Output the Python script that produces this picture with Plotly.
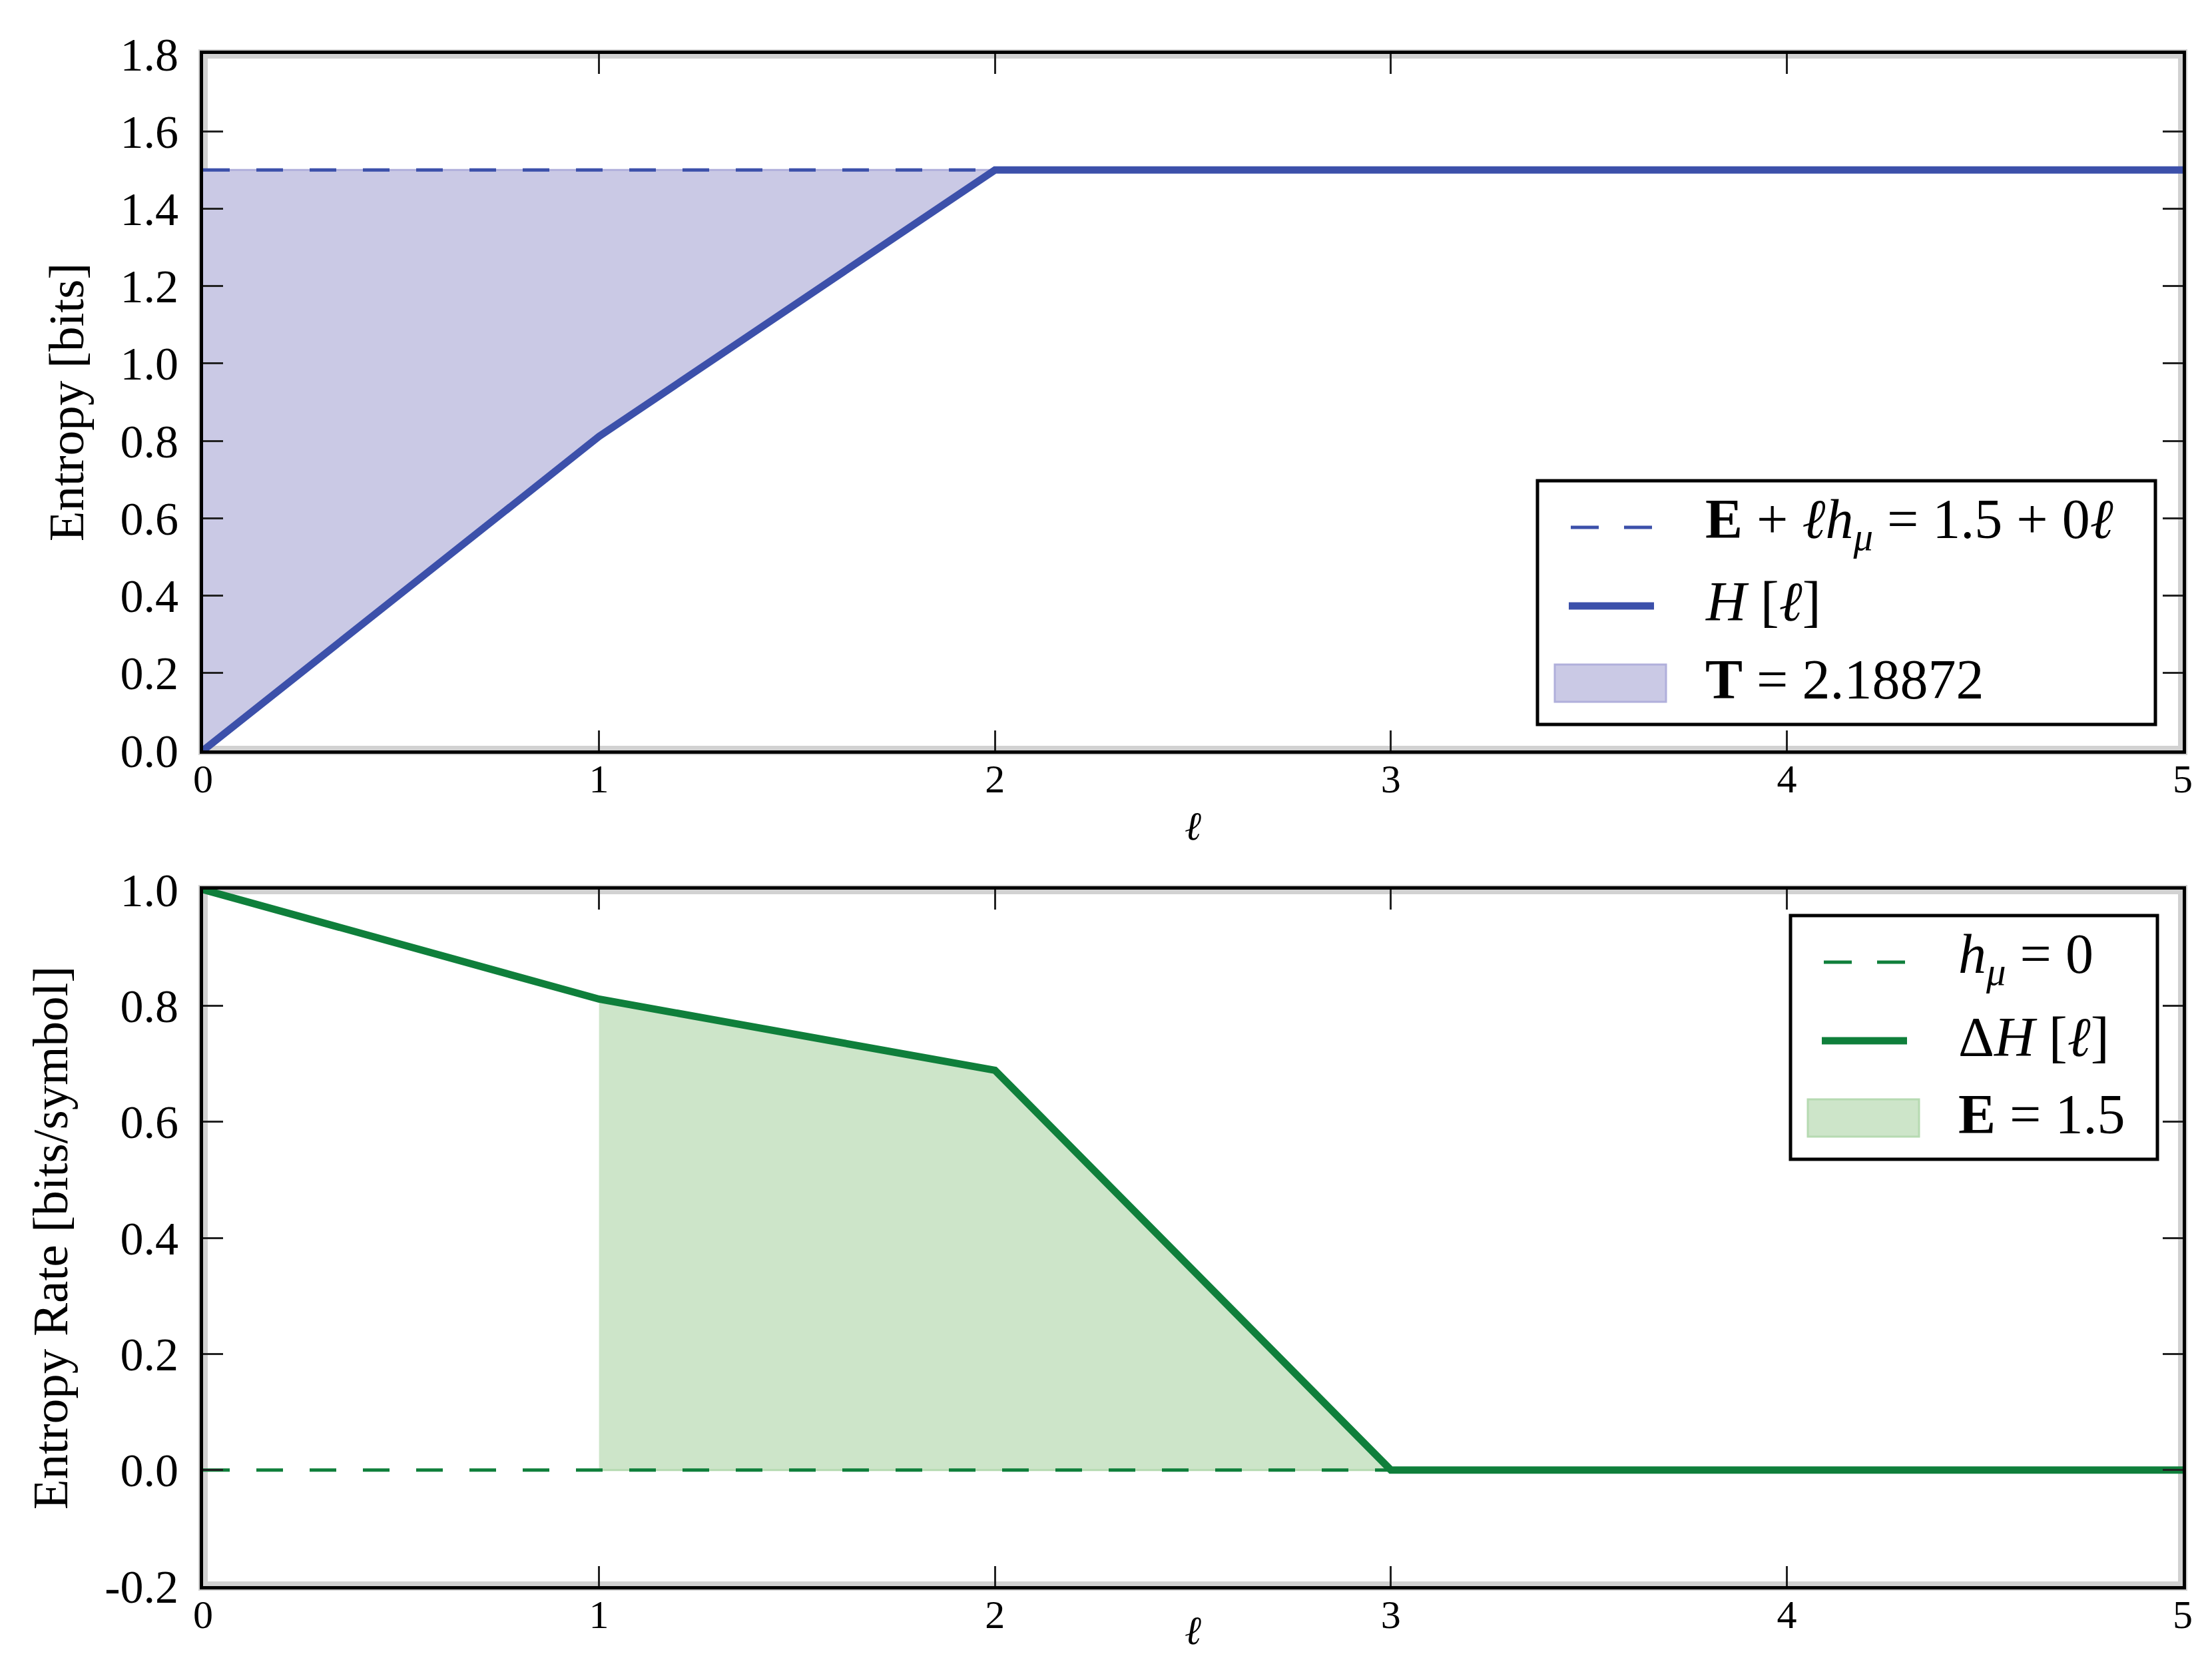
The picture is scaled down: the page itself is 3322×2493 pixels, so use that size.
import plotly.graph_objects as go
from plotly.subplots import make_subplots

# block length
ell = [0, 1, 2, 3, 4, 5]
# block entropy H[ell] (bits)
H = [0.0, 0.81128, 1.5, 1.5, 1.5, 1.5]
# excess entropy + ell * h_mu
E_line = [1.5, 1.5, 1.5, 1.5, 1.5, 1.5]
# entropy-rate estimates Delta H[ell] (bits/symbol)
dH = [1.0, 0.81128, 0.68872, 0.0, 0.0, 0.0]
hmu_line = [0.0, 0.0, 0.0, 0.0, 0.0, 0.0]

top_yticks = [0.0, 0.2, 0.4, 0.6, 0.8, 1.0, 1.2, 1.4, 1.6, 1.8]
bot_yticks = [-0.2, 0.0, 0.2, 0.4, 0.6, 0.8, 1.0]

top_labels = ["<b>E</b> + <i>ℓh</i><sub><i>μ</i></sub> = 1.5 + 0<i>ℓ</i>",
              "<i>H</i> [<i>ℓ</i>]", "<b>T</b> = 2.18872"]
bot_labels = ["<i>h</i><sub><i>μ</i></sub> = 0", "Δ<i>H</i> [<i>ℓ</i>]", "<b>E</b> = 1.5"]

BLUE = "#3c50aa"
BLUE_FILL = "#cac9e5"
BLUE_EDGE = "#b0afdb"
GREEN = "#0f7f3b"
GREEN_FILL = "#cde5c9"
GREEN_EDGE = "#b6dab1"
SERIF = "Liberation Serif, DejaVu Serif, serif"

# page is 3322x2493; the html body adds an 8px margin around the figure
PAGE_W, PAGE_H, OFF = 3322, 2493, 8
W, HGT = PAGE_W - 2 * OFF, PAGE_H - 2 * OFF
L, R, T, B = 305, 3278, 81, 2382   # plot area in page pixels
TOP_DOM = [(B - 1127) / (B - T), 1.0]
BOT_DOM = [0.0, (B - 1336) / (B - T)]


def px(x):
    return (x - L) / (R - L)


def py(y):
    return (B - y) / (B - T)


fig = make_subplots(rows=2, cols=1)

# --- top panel: block entropy ---
fill_x = ell[:3] + ell[:3][::-1]
fill_y = H[:3] + E_line[:3][::-1]
fig.add_trace(go.Scatter(x=fill_x, y=fill_y, fill="toself", fillcolor=BLUE_FILL, mode="lines",
                         line=dict(color=BLUE_EDGE, width=3), name=top_labels[2]), row=1, col=1)
fig.add_trace(go.Scatter(x=ell, y=E_line, mode="lines",
                         line=dict(color=BLUE, width=5, dash="40px,40px"), name=top_labels[0]), row=1, col=1)
fig.add_trace(go.Scatter(x=ell, y=H, mode="lines", line=dict(color=BLUE, width=11),
                         name=top_labels[1]), row=1, col=1)

# --- bottom panel: entropy rate estimates ---
gfill_x = ell[1:4] + ell[1:4][::-1]
gfill_y = dH[1:4] + hmu_line[1:4][::-1]
fig.add_trace(go.Scatter(x=gfill_x, y=gfill_y, fill="toself", fillcolor=GREEN_FILL, mode="lines",
                         line=dict(color=GREEN_EDGE, width=3), name=bot_labels[2]), row=2, col=1)
fig.add_trace(go.Scatter(x=ell, y=hmu_line, mode="lines",
                         line=dict(color=GREEN, width=5, dash="40px,40px"), name=bot_labels[0]), row=2, col=1)
fig.add_trace(go.Scatter(x=ell, y=dH, mode="lines", line=dict(color=GREEN, width=11),
                         name=bot_labels[1]), row=2, col=1)

fig.update_traces(showlegend=False, hoverinfo="skip")

shapes = []
annotations = []

# soft grey halo around the axes frames
for dom in (TOP_DOM, BOT_DOM):
    shapes.append(dict(type="rect", xref="paper", yref="paper", x0=0, x1=1, y0=dom[0], y1=dom[1],
                       line=dict(color="#d2d2d2", width=14), layer="below"))


def draw_legend(left, top, right, labels, color, fill, edge):
    # boxed legend drawn like matplotlib's: dashed, solid, filled patch
    bottom = top + 366
    shapes.append(dict(type="rect", xref="paper", yref="paper",
                       x0=px(left), x1=px(right), y0=py(bottom), y1=py(top),
                       fillcolor="white", line=dict(color="black", width=5), layer="above"))
    rows = [top + 70, top + 188, top + 304]
    shapes.append(dict(type="line", xref="paper", yref="paper", x0=px(left + 50), x1=px(left + 172),
                       y0=py(rows[0]), y1=py(rows[0]), line=dict(color=color, width=5, dash="42px,38px"),
                       layer="above"))
    shapes.append(dict(type="line", xref="paper", yref="paper", x0=px(left + 47), x1=px(left + 175),
                       y0=py(rows[1]), y1=py(rows[1]), line=dict(color=color, width=11), layer="above"))
    shapes.append(dict(type="rect", xref="paper", yref="paper", x0=px(left + 26), x1=px(left + 193),
                       y0=py(rows[2] + 28), y1=py(rows[2] - 28), fillcolor=fill,
                       line=dict(color=edge, width=3), layer="above"))
    for label, yy in zip(labels, rows):
        annotations.append(dict(text=label, xref="paper", yref="paper", x=px(left + 250), y=py(yy - 6),
                                xanchor="left", yanchor="middle", showarrow=False,
                                font=dict(family=SERIF, size=84, color="black")))


draw_legend(2309, 722, 3237, top_labels, BLUE, BLUE_FILL, BLUE_EDGE)
draw_legend(2689, 1375, 3240, bot_labels, GREEN, GREEN_FILL, GREEN_EDGE)

# lower x-axis title sits right at the bottom edge of the canvas
annotations.append(dict(text="<i>ℓ</i>", xref="paper", yref="paper", x=0.5, y=py(PAGE_H - OFF - 1),
                        xanchor="center", yanchor="bottom", showarrow=False,
                        font=dict(family=SERIF, size=60, color="black")))

axis_common = dict(
    showgrid=False, zeroline=False, showline=True, linecolor="black", linewidth=5,
    mirror="allticks", ticks="inside", ticklen=30, tickwidth=3, tickcolor="#222",
    automargin=False,
)
xax = dict(axis_common, range=[0, 5], tickvals=ell, ticklabelstandoff=-14,
           tickfont=dict(size=60, family=SERIF, color="black"))
yfont = dict(size=70, family=SERIF, color="black")

fig.update_layout(
    width=W, height=HGT,
    margin=dict(l=L - OFF, r=(PAGE_W - OFF) - R, t=T - OFF, b=(PAGE_H - OFF) - B, autoexpand=False),
    paper_bgcolor="white", plot_bgcolor="white",
    font=dict(family=SERIF, color="black"),
    xaxis=dict(xax, domain=[0, 1], anchor="y",
               title=dict(text="<i>ℓ</i>", font=dict(size=60), standoff=18)),
    xaxis2=dict(xax, domain=[0, 1], anchor="y2"),
    yaxis=dict(axis_common, domain=TOP_DOM, range=[0, 1.8], tickvals=top_yticks,
               ticktext=[f"{v:.1f}" for v in top_yticks], tickfont=yfont, ticklabelstandoff=18,
               title=dict(text="Entropy [bits]", font=dict(size=75), standoff=32)),
    yaxis2=dict(axis_common, domain=BOT_DOM, range=[-0.2, 1.0], tickvals=bot_yticks,
                ticktext=[f"{v:.1f}" for v in bot_yticks], tickfont=yfont, ticklabelstandoff=18,
                title=dict(text="Entropy Rate [bits/symbol]", font=dict(size=75), standoff=32)),
    shapes=shapes,
    annotations=annotations,
    showlegend=False,
)

fig.write_html("out.html")
